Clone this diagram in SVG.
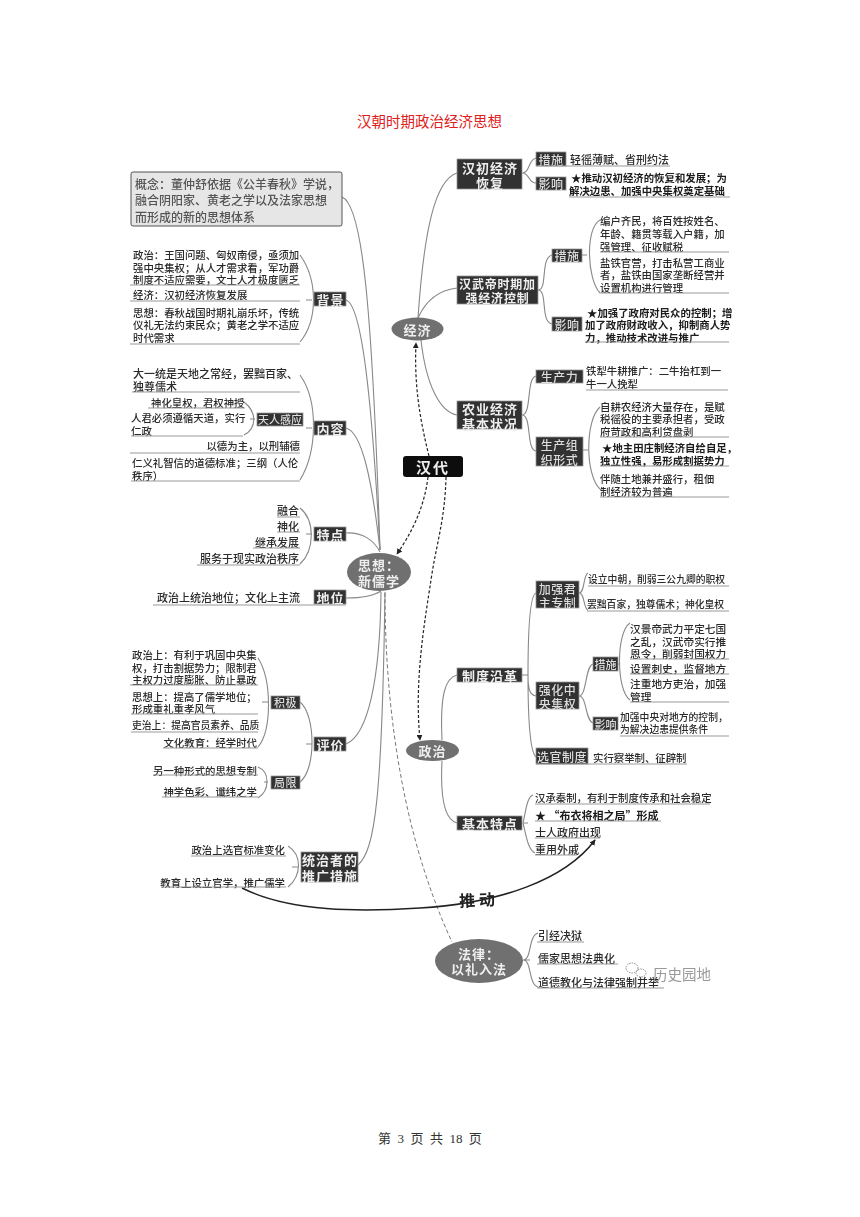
<svg xmlns="http://www.w3.org/2000/svg" width="860" height="1217" viewBox="0 0 860 1217">
<style>
text{font-family:"Noto Sans CJK SC","Noto Sans",sans-serif;dominant-baseline:central;fill:#2a2a2a;font-weight:500}
.a{font-size:9.8px}.b{font-size:10.4px}.c{font-size:11px}
.k{font-weight:700;fill:#1a1a1a}
.r{text-anchor:end}
.m{text-anchor:middle}
.w{fill:#eee;font-weight:700;text-anchor:middle;font-size:13px;letter-spacing:1px}
.w2{fill:#ddd;font-weight:500;text-anchor:middle;font-size:12px;letter-spacing:.5px}
.box{fill:#303030;stroke:#999;stroke-width:.8}
.oval{fill:#707070}
.u{stroke:#999;stroke-width:1;fill:none}
.l{stroke:#888;stroke-width:1.1;fill:none}
.d{stroke:#222;stroke-width:1.2;fill:none;stroke-dasharray:3 2}
</style>
<defs>
<marker id="ah" viewBox="0 0 8 8" refX="7" refY="4" markerWidth="6" markerHeight="6" orient="auto-start-reverse" markerUnits="userSpaceOnUse"><path d="M0 0L8 4L0 8Z" fill="#222"/></marker>
<filter id="soft" x="0" y="0" width="100%" height="100%"><feGaussianBlur stdDeviation="0.3"/></filter>
</defs>
<rect width="860" height="1217" fill="#fff"/>
<text id="title" x="429.500" y="120" class="m" style="font-size:14.500px;font-weight:400;fill:#e02020">汉朝时期政治经济思想</text>
<g filter="url(#soft)">
<g id="connectors">
<path class="l" d="M342,197C362,205 372,300 380,550"/>
<path class="l" d="M346,300C362,305 372,400 380,550"/>
<path class="l" d="M346,428C362,432 372,480 380,550"/>
<path class="l" d="M346,533C362,532 374,540 380,552"/>
<path class="l" d="M346,598C360,598 372,597 381,591"/>
<path class="l" d="M346,744C368,735 380,680 381,592"/>
<path class="l" d="M358,865C375,850 382,800 385,592"/>
<path class="l" d="M300,255C318,280 318,320 300,342M312,300H306"/>
<path class="l" d="M300,375C318,400 318,450 300,480M312,428H306"/>
<path class="l" d="M244,402C257,412 257,428 244,435M255,419H250"/>
<path class="l" d="M300,508C315,520 315,550 300,564M312,534H306"/>
<path class="l" d="M258,658C272,680 272,730 258,747M268,702H262"/>
<path class="l" d="M258,767C270,772 270,790 258,798M268,782H264"/>
<path class="l" d="M300,702C316,715 316,770 300,782M312,744H306"/>
<path class="l" d="M288,846C302,855 302,875 288,887M298,867H292"/>
<path class="l" d="M418,318C424,230 435,180 457,173"/>
<path class="l" d="M418,318C426,300 440,290 457,288"/>
<path class="l" d="M421,340C426,385 440,412 457,415"/>
<path class="l" d="M522,173C530,173 528,160 536,158M522,173C530,173 528,183 536,183"/>
<path class="l" d="M538,290C548,290 540,258 552,255M538,290C548,290 540,322 552,324"/>
<path class="l" d="M600,220C585,228 587,280 600,293M587,255H582"/>
<path class="l" d="M522,415C532,415 526,378 536,376M522,415C532,415 526,450 536,451"/>
<path class="l" d="M600,407C585,420 585,475 600,489M588,450H583"/>
<path class="l" d="M442,740C440,695 445,678 457,675"/>
<path class="l" d="M442,761C440,800 445,820 457,823"/>
<path class="l" d="M522,675H528M528,675C528,630 530,595 536,593M528,675C528,690 530,695 536,696M528,675C528,720 530,752 536,757"/>
<path class="l" d="M579,593C585,593 583,575 588,573M579,593C585,593 583,608 588,610"/>
<path class="l" d="M579,696C587,696 585,666 593,664M579,696C587,696 585,720 593,723"/>
<path class="l" d="M630,623C616,632 616,690 630,700M620,664H618"/>
<path class="l" d="M523,823C526,810 527,797 533,795M523,823C526,835 528,850 535,853M523,823H528"/>
<path class="l" d="M523,960C532,960 528,936 538,933M523,960C532,960 528,984 538,987M523,960H530"/>
<path class="d" d="M429,456C420,420 414,385 416,343" marker-end="url(#ah)"/>
<path class="d" d="M428,477C424,510 410,535 397,554" marker-end="url(#ah)"/>
<path class="d" d="M446,477C445,520 436,545 431,580C425,620 414,680 420,740" marker-end="url(#ah)"/>
<path d="M385,593C385,700 400,830 452,942" fill="none" stroke="#777" stroke-width="1" stroke-dasharray="4 2.500"/>
<path d="M242,888C290,912 360,912 420,908C500,903 565,880 595,840" fill="none" stroke="#222" stroke-width="1.500" marker-end="url(#ah)"/>
<text x="459" y="899" transform="rotate(-3 477 899)" style="font-size:16px;font-weight:700;letter-spacing:4px;fill:#222">推动</text>
</g>
<g id="n-concept">
<rect x="131" y="172" width="211" height="54" rx="2" fill="#e6e6e6" stroke="#555" stroke-width="1"/>
<text x="135" y="183" style="font-size:12px;fill:#555">概念：董仲舒依据《公羊春秋》学说，</text>
<text x="135" y="199" style="font-size:12px;fill:#555">融合阴阳家、黄老之学以及法家思想</text>
<text x="135" y="216" style="font-size:12px;fill:#555">而形成的新的思想体系</text>
</g>
<g id="n-beijing">
<rect class="box" x="314" y="292" width="32" height="14"/><text class="w" x="330.500" y="299">背景</text>
<text class="b" x="133" y="254">政治：王国问题、匈奴南侵，亟须加</text>
<text class="b" x="133" y="267">强中央集权；从人才需求看，军功爵</text>
<text class="b" x="133" y="279">制度不适应需要，文士人才极度匮乏</text>
<path class="u" d="M130,285H300"/>
<text class="b" x="133" y="294">经济：汉初经济恢复发展</text>
<path class="u" d="M130,301H300"/>
<text class="b" x="133" y="312">思想：春秋战国时期礼崩乐坏，传统</text>
<text class="b" x="133" y="324">仪礼无法约束民众；黄老之学不适应</text>
<text class="b" x="133" y="337">时代需求</text>
<path class="u" d="M130,344H300"/>
</g>
<g id="n-neirong">
<rect class="box" x="314" y="421" width="32" height="14"/><text class="w" x="330.500" y="428">内容</text>
<text class="c" x="133" y="373">大一统是天地之常经，罢黜百家、</text>
<text class="c" x="133" y="386">独尊儒术</text>
<path class="u" d="M132,392H300"/>
<text class="b" x="151" y="402">神化皇权，君权神授</text>
<path class="u" d="M148,408H245"/>
<text class="b" x="131" y="417">人君必须遵循天道，实行</text>
<text class="b" x="131" y="430">仁政</text>
<path class="u" d="M131,436H243"/>
<rect class="box" x="257" y="413" width="46" height="13"/><text class="w2" x="280" y="419" style="font-size:11px;letter-spacing:0">天人感应</text>
<text class="b r" x="300" y="445">以德为主，以刑辅德</text>
<path class="u" d="M130,453H300"/>
<text class="b" x="132" y="462">仁义礼智信的道德标准；三纲（人伦</text>
<text class="b" x="132" y="475">秩序）</text>
<path class="u" d="M131,481H300"/>
</g>
<g id="n-tedian">
<rect class="box" x="314" y="527" width="32" height="14"/><text class="w" x="330.500" y="534">特点</text>
<text class="c r" x="299" y="510">融合</text><path class="u" d="M277,517H300"/>
<text class="c r" x="299" y="526">神化</text><path class="u" d="M277,532H300"/>
<text class="c r" x="299" y="542">继承发展</text><path class="u" d="M253,548H300"/>
<text class="c r" x="299" y="558">服务于现实政治秩序</text><path class="u" d="M197,565H300"/>
</g>
<g id="n-diwei">
<rect class="box" x="314" y="590" width="32" height="14"/><text class="w" x="330.500" y="597">地位</text>
<text class="c r" x="300" y="597">政治上统治地位；文化上主流</text>
<path class="u" d="M153,605H346"/>
</g>
<g id="n-pingjia">
<rect class="box" x="314" y="737" width="32" height="14"/><text class="w" x="330.500" y="744">评价</text>
<rect class="box" x="271" y="696" width="29" height="13"/><text class="w2" x="285.500" y="702" style="font-size:11px">积极</text>
<rect class="box" x="271" y="776" width="29" height="13"/><text class="w2" x="285.500" y="782" style="font-size:11px">局限</text>
<text class="b" x="132" y="654">政治上：有利于巩固中央集</text>
<text class="b" x="132" y="667">权，打击割据势力；限制君</text>
<text class="b" x="132" y="679">主权力过度膨胀、防止暴政</text>
<path class="u" d="M130,685H258"/>
<text class="b" x="132" y="696">思想上：提高了儒学地位；</text>
<text class="b" x="132" y="708">形成重礼重孝风气</text>
<path class="u" d="M131,714H258"/>
<text class="a" x="132" y="725">吏治上：提高官员素养、品质</text>
<path class="u" d="M131,732H258"/>
<text class="b r" x="257" y="742">文化教育：经学时代</text>
<path class="u" d="M163,748H258"/>
<text class="b r" x="257" y="770">另一种形式的思想专制</text>
<path class="u" d="M153,775H258"/>
<text class="b r" x="257" y="791">神学色彩、谶纬之学</text>
<path class="u" d="M162,797H258"/>
</g>
<g id="n-tuiguang">
<rect class="box" x="301" y="852" width="57" height="30"/>
<text class="w" x="330" y="859">统治者的</text><text class="w" x="330" y="875">推广措施</text>
<text class="b r" x="285" y="849">政治上选官标准变化</text>
<path class="u" d="M191,856H286"/>
<text class="b r" x="285" y="882">教育上设立官学，推广儒学</text>
<path class="u" d="M161,887H286"/>
</g>
<g id="n-handai">
<rect x="403" y="456" width="60" height="21" rx="3" fill="#111"/>
<text class="m" x="433" y="466.500" style="font-size:15px;font-weight:700;fill:#eee;letter-spacing:2px">汉代</text>
</g>
<g id="n-sixiang">
<ellipse class="oval" cx="379" cy="572" rx="32" ry="19"/>
<text class="w" x="379" y="564">思想：</text><text class="w" x="379" y="580">新儒学</text>
</g>
<g id="n-jingji">
<ellipse class="oval" cx="417.500" cy="329" rx="26" ry="11.500"/>
<text class="w" x="417.500" y="329">经济</text>
</g>
<g id="n-zhengzhi">
<ellipse class="oval" cx="432.500" cy="750.500" rx="26.500" ry="10.500"/>
<text class="w" x="432.500" y="750.500">政治</text>
</g>
<g id="n-falv">
<ellipse class="oval" cx="479" cy="961" rx="44" ry="22"/>
<text class="w" x="479" y="953">法律：</text><text class="w" x="479" y="968">以礼入法</text>
<text class="c" x="538" y="935">引经决狱</text><path class="u" d="M537,942H584"/>
<text class="c" x="538" y="958">儒家思想法典化</text><path class="u" d="M537,964H618"/>
<text class="c" x="538" y="982">道德教化与法律强制并举</text><path class="u" d="M537,988H664"/>
</g>
<g id="n-hanchu">
<rect class="box" x="457" y="159" width="65" height="30"/>
<text class="w" x="490" y="167">汉初经济</text><text class="w" x="490" y="182">恢复</text>
<rect class="box" x="536" y="152" width="30" height="14"/><text class="w2" x="551" y="159">措施</text>
<rect class="box" x="536" y="177" width="30" height="13"/><text class="w2" x="551" y="183.500">影响</text>
<text class="c" x="570" y="159">轻徭薄赋、省刑约法</text>
<path class="u" d="M536,166H670"/>
<text class="b k" x="571" y="177">★推动汉初经济的恢复和发展；为</text>
<text class="b k" x="569" y="190">解决边患、加强中央集权奠定基础</text>
<path class="u" d="M569,197H730"/>
</g>
<g id="n-hanwu">
<rect class="box" x="457" y="276" width="81" height="28"/>
<text class="w" x="497.500" y="283" style="font-size:12px;letter-spacing:.8px">汉武帝时期加</text><text class="w" x="497.500" y="297" style="font-size:12px;letter-spacing:.8px">强经济控制</text>
<rect class="box" x="552" y="249" width="30" height="13"/><text class="w2" x="567" y="255.500">措施</text>
<rect class="box" x="552" y="317" width="30" height="14"/><text class="w2" x="567" y="324">影响</text>
<text class="b" x="600" y="220">编户齐民，将百姓按姓名、</text>
<text class="b" x="600" y="233">年龄、籍贯等载入户籍，加</text>
<text class="b" x="600" y="246">强管理、征收赋税</text>
<path class="u" d="M600,252H729"/>
<text class="b" x="600" y="262">盐铁官营，打击私营工商业</text>
<text class="b" x="600" y="274">者，盐铁由国家垄断经营并</text>
<text class="b" x="600" y="287">设置机构进行管理</text>
<path class="u" d="M600,293H729"/>
<text class="b k" x="587" y="312">★加强了政府对民众的控制；增</text>
<text class="b k" x="585" y="324">加了政府财政收入，抑制商人势</text>
<text class="b k" x="585" y="337">力，推动技术改进与推广</text>
<path class="u" d="M585,342H729"/>
</g>
<g id="n-nongye">
<rect class="box" x="457" y="401" width="65" height="28"/>
<text class="w" x="490" y="408">农业经济</text><text class="w" x="490" y="423">基本状况</text>
<rect class="box" x="536" y="370" width="47" height="13"/><text class="w2" x="559.500" y="376.500">生产力</text>
<rect class="box" x="536" y="437" width="47" height="29"/><text class="w2" x="559.500" y="444">生产组</text><text class="w2" x="559.500" y="459">织形式</text>
<text class="b" x="586" y="370">铁犁牛耕推广：二牛抬杠到一</text>
<text class="b" x="586" y="383">牛一人挽犁</text>
<path class="u" d="M586,390H728"/>
<text class="b" x="600" y="406">自耕农经济大量存在，是赋</text>
<text class="b" x="600" y="418">税徭役的主要承担者，受政</text>
<text class="b" x="600" y="431">府苛政和高利贷盘剥</text>
<path class="u" d="M600,437H729"/>
<text class="b k" x="602" y="447">★地主田庄制经济自给自足，</text>
<text class="b k" x="600" y="460">独立性强，易形成割据势力</text>
<path class="u" d="M600,466H729"/>
<text class="b" x="600" y="478">伴随土地兼并盛行，租佃</text>
<text class="b" x="600" y="491">制经济较为普遍</text>
<path class="u" d="M600,497H729"/>
</g>
<g id="n-zhidu">
<rect class="box" x="457" y="668" width="65" height="14"/><text class="w" x="490" y="675">制度沿革</text>
<rect class="box" x="536" y="581" width="43" height="27"/><text class="w2" x="557.500" y="588">加强君</text><text class="w2" x="557.500" y="602">主专制</text>
<rect class="box" x="536" y="682" width="43" height="27"/><text class="w2" x="557.500" y="689">强化中</text><text class="w2" x="557.500" y="703">央集权</text>
<rect class="box" x="536" y="748" width="52" height="16"/><text class="w2" x="562" y="756">选官制度</text>
<rect class="box" x="593" y="657" width="25" height="14"/><text class="w2" x="605.500" y="664" style="font-size:11px;letter-spacing:0">措施</text>
<rect class="box" x="593" y="717" width="25" height="13"/><text class="w2" x="605.500" y="723.500" style="font-size:11px;letter-spacing:0">影响</text>
<text class="a" x="588" y="579">设立中朝，削弱三公九卿的职权</text><path class="u" d="M588,586H729"/>
<text class="a" x="587" y="604">罢黜百家，独尊儒术；神化皇权</text><path class="u" d="M587,611H729"/>
<text class="c" x="630" y="628" style="font-size:10.700px">汉景帝武力平定七国</text>
<text class="c" x="630" y="641" style="font-size:10.700px">之乱，汉武帝实行推</text>
<text class="c" x="630" y="653" style="font-size:10.700px">恩令，削弱封国权力</text>
<path class="u" d="M630,659H729"/>
<text class="c" x="630" y="668" style="font-size:10.700px">设置刺史，监督地方</text>
<path class="u" d="M630,674H729"/>
<text class="c" x="630" y="683" style="font-size:10.700px">注重地方吏治，加强</text>
<text class="c" x="630" y="696" style="font-size:10.700px">管理</text>
<path class="u" d="M630,702H729"/>
<text class="a" x="620" y="717">加强中央对地方的控制，</text>
<text class="a" x="620" y="729">为解决边患提供条件</text>
<path class="u" d="M620,736H729"/>
<text class="b" x="593" y="757">实行察举制、征辟制</text>
<path class="u" d="M536,764H687"/>
</g>
<g id="n-jiben">
<rect class="box" x="457" y="816" width="65" height="14"/><text class="w" x="490" y="823">基本特点</text>
<text class="b" x="535" y="797">汉承秦制，有利于制度传承和社会稳定</text><path class="u" d="M535,804H710"/>
<text class="c k" x="535" y="815">★ “布衣将相之局”形成</text><path class="u" d="M535,821H661"/>
<text class="c" x="535" y="832">士人政府出现</text><path class="u" d="M535,838H600"/>
<text class="c" x="535" y="849">重用外戚</text><path class="u" d="M535,855H577"/>
</g>
<g id="n-watermark">
<ellipse cx="632" cy="968" rx="6" ry="5" fill="none" stroke="#888" stroke-dasharray="1.500 1"/>
<ellipse cx="641" cy="973" rx="5" ry="4" fill="none" stroke="#888" stroke-dasharray="1.500 1"/>
<text x="653" y="973" style="font-size:14.500px;font-weight:400;fill:#999">历史园地</text>
</g>
</g>
<text id="footer" x="430" y="1138" class="m" style="font-size:13px;font-weight:400;word-spacing:3.200px;fill:#333;font-family:'Liberation Serif','Noto Sans CJK SC',serif">第 3 页 共 18 页</text>
</svg>
